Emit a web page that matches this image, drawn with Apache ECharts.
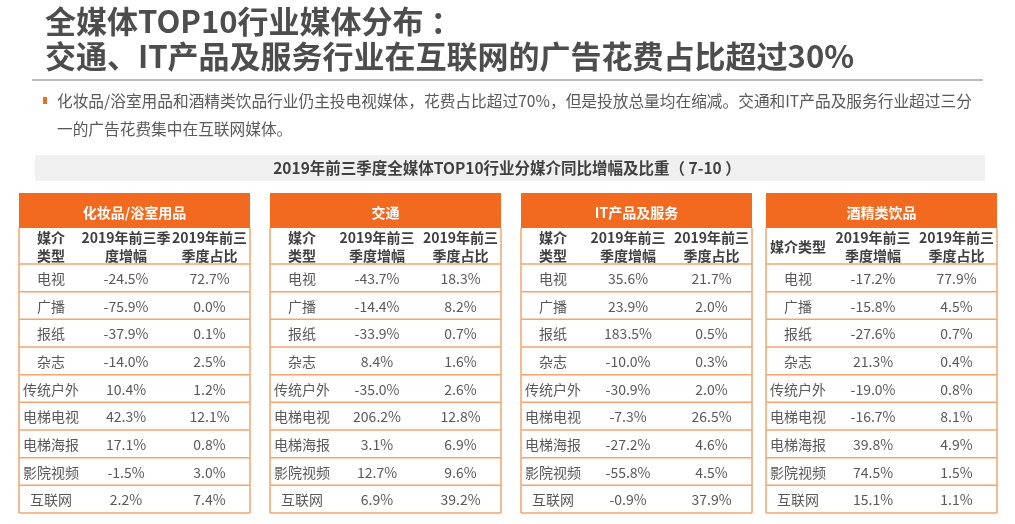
<!DOCTYPE html>
<html>
<head>
<meta charset="utf-8">
<title>全媒体TOP10行业媒体分布</title>
<script src="https://cdn.jsdelivr.net/npm/echarts@6/dist/echarts.min.js"></script>
<style>
html, body { margin: 0; padding: 0; background: #fff; }
#main { width: 1015px; height: 524px; }
</style>
</head>
<body>
<div id="main"></div>
<script>
// 数据
var mediaTypes = ['电视', '广播', '报纸', '杂志', '传统户外', '电梯电视', '电梯海报', '影院视频', '互联网'];
var industries = ['化妆品/浴室用品', '交通', 'IT产品及服务', '酒精类饮品'];

var growthCosmetics = [-24.5, -75.9, -37.9, -14.0, 10.4, 42.3, 17.1, -1.5, 2.2];
var shareCosmetics = [72.7, 0.0, 0.1, 2.5, 1.2, 12.1, 0.8, 3.0, 7.4];
var growthTraffic = [-43.7, -14.4, -33.9, 8.4, -35.0, 206.2, 3.1, 12.7, 6.9];
var shareTraffic = [18.3, 8.2, 0.7, 1.6, 2.6, 12.8, 6.9, 9.6, 39.2];
var growthIT = [35.6, 23.9, 183.5, -10.0, -30.9, -7.3, -27.2, -55.8, -0.9];
var shareIT = [21.7, 2.0, 0.5, 0.3, 2.0, 26.5, 4.6, 4.5, 37.9];
var growthAlcohol = [-17.2, -15.8, -27.6, 21.3, -19.0, -16.7, 39.8, 74.5, 15.1];
var shareAlcohol = [77.9, 4.5, 0.7, 0.4, 0.8, 8.1, 4.9, 1.5, 1.1];

var colHeaders = [
  ['媒介\n类型', '2019年前三季\n度增幅', '2019年前三\n季度占比'],
  ['媒介\n类型', '2019年前三\n季度增幅', '2019年前三\n季度占比'],
  ['媒介\n类型', '2019年前三\n季度增幅', '2019年前三\n季度占比'],
  ['媒介类型', '2019年前三\n季度增幅', '2019年前三\n季度占比']
];
var growthList = [growthCosmetics, growthTraffic, growthIT, growthAlcohol];
var shareList = [shareCosmetics, shareTraffic, shareIT, shareAlcohol];

// 布局
var tableLeft = [19, 270, 521, 766];
var tableTop = 193, tableW = 231, tableH = 320;
var colEdges = [0, 64, 150, 231];
var rowEdges = [0, 35, 71];
for (var i = 1; i <= 9; i++) rowEdges.push(71 + (tableH - 71) * i / 9);

var orange = '#f26a1f';
var lineColor = '#f5a46c';
var textColor = '#595959';
var cjk = '"Noto Sans CJK SC", "Noto Sans", sans-serif';

function pct(v) { return v.toFixed(1) + '%'; }

function buildCells(t) {
  var cells = [{ c: 0, r: 0, span: 3, text: industries[t], kind: 'title' }];
  for (var c = 0; c < 3; c++) cells.push({ c: c, r: 1, span: 1, text: colHeaders[t][c], kind: 'head' });
  for (var k = 0; k < mediaTypes.length; k++) {
    cells.push({ c: 0, r: k + 2, span: 1, text: mediaTypes[k], kind: 'body' });
    cells.push({ c: 1, r: k + 2, span: 1, text: pct(growthList[t][k]), kind: 'body' });
    cells.push({ c: 2, r: k + 2, span: 1, text: pct(shareList[t][k]), kind: 'body' });
  }
  return cells;
}

function makeRender(cells) {
  return function (params, api) {
    var cell = cells[params.dataIndex];
    var c = api.value(0), r = api.value(1);
    var p0 = api.coord([colEdges[c], rowEdges[r]]);
    var p1 = api.coord([colEdges[c + cell.span], rowEdges[r + 1]]);
    var cx = (p0[0] + p1[0]) / 2, cy = (p0[1] + p1[1]) / 2;
    var children = [];
    if (cell.kind === 'title') {
      children.push({ type: 'rect', shape: { x: p0[0], y: p0[1], width: p1[0] - p0[0], height: p1[1] - p0[1] }, style: { fill: orange } });
      children.push({ type: 'text', style: { text: cell.text, x: cx, y: cy + 2, align: 'center', verticalAlign: 'middle', fill: '#fff', font: 'bold 14px ' + cjk } });
      return { type: 'group', children: children };
    }
    var left = api.coord([0, rowEdges[r]]), right = api.coord([tableW, rowEdges[r + 1]]);
    if (c === 0) {
      children.push({ type: 'line', shape: { x1: left[0], y1: p1[1], x2: right[0], y2: p1[1] }, style: { stroke: lineColor, lineWidth: 1.5 } });
      children.push({ type: 'line', shape: { x1: p0[0], y1: p0[1], x2: p0[0], y2: p1[1] }, style: { stroke: lineColor, lineWidth: 1.5 } });
    }
    if (c === 2) {
      children.push({ type: 'line', shape: { x1: p1[0], y1: p0[1], x2: p1[0], y2: p1[1] }, style: { stroke: lineColor, lineWidth: 1.5 } });
    }
    children.push({
      type: 'text',
      style: {
        text: cell.text, x: cx, y: cy + 1, align: 'center', verticalAlign: 'middle',
        fill: cell.kind === 'head' ? '#404040' : textColor,
        font: (cell.kind === 'head' ? 'bold ' : '') + '14px ' + cjk,
        lineHeight: 18
      }
    });
    return { type: 'group', children: children };
  };
}

var grids = [], xAxes = [], yAxes = [], series = [];
for (var t = 0; t < 4; t++) {
  var cells = buildCells(t);
  grids.push({ left: tableLeft[t], top: tableTop, width: tableW, height: tableH });
  xAxes.push({ type: 'value', gridIndex: t, min: 0, max: tableW, show: false });
  yAxes.push({ type: 'value', gridIndex: t, min: 0, max: tableH, inverse: true, show: false });
  series.push({
    type: 'custom',
    xAxisIndex: t,
    yAxisIndex: t,
    silent: true,
    renderItem: makeRender(cells),
    data: cells.map(function (d) { return [d.c, d.r]; })
  });
}

var myChart = echarts.init(document.getElementById('main'));
myChart.setOption({
  animation: false,
  grid: grids,
  xAxis: xAxes,
  yAxis: yAxes,
  series: series,
  graphic: [
    { type: 'text', left: 45, top: 6, style: { text: '全媒体TOP10行业媒体分布 ：', fill: '#4d4d4d', font: 'bold 31px ' + cjk } },
    { type: 'text', left: 45, top: 41, style: { text: '交通、IT产品及服务行业在互联网的广告花费占比超过30%', fill: '#4d4d4d', font: 'bold 31px ' + cjk } },
    { type: 'line', shape: { x1: 32, y1: 80, x2: 983, y2: 80 }, style: { stroke: '#a6a6a6', lineWidth: 1.5 } },
    { type: 'rect', shape: { x: 43, y: 97, width: 4, height: 7 }, style: { fill: orange } },
    { type: 'text', style: { x: 57, y: 101, verticalAlign: 'middle', text: '化妆品/浴室用品和酒精类饮品行业仍主投电视媒体，花费占比超过70%，但是投放总量均在缩减。交通和IT产品及服务行业超过三分', fill: textColor, font: '15.7px ' + cjk } },
    { type: 'text', style: { x: 57, y: 129, verticalAlign: 'middle', text: '一的广告花费集中在互联网媒体。', fill: textColor, font: '15.7px ' + cjk } },
    { type: 'rect', shape: { x: 35, y: 155, width: 950, height: 26 }, style: { fill: '#f0f0f0' } },
    { type: 'text', style: { x: 507, y: 168, align: 'center', verticalAlign: 'middle', text: '2019年前三季度全媒体TOP10行业分媒介同比增幅及比重（ 7-10 ）', fill: '#404040', font: 'bold 15.5px ' + cjk } }
  ]
});
</script>
</body>
</html>
